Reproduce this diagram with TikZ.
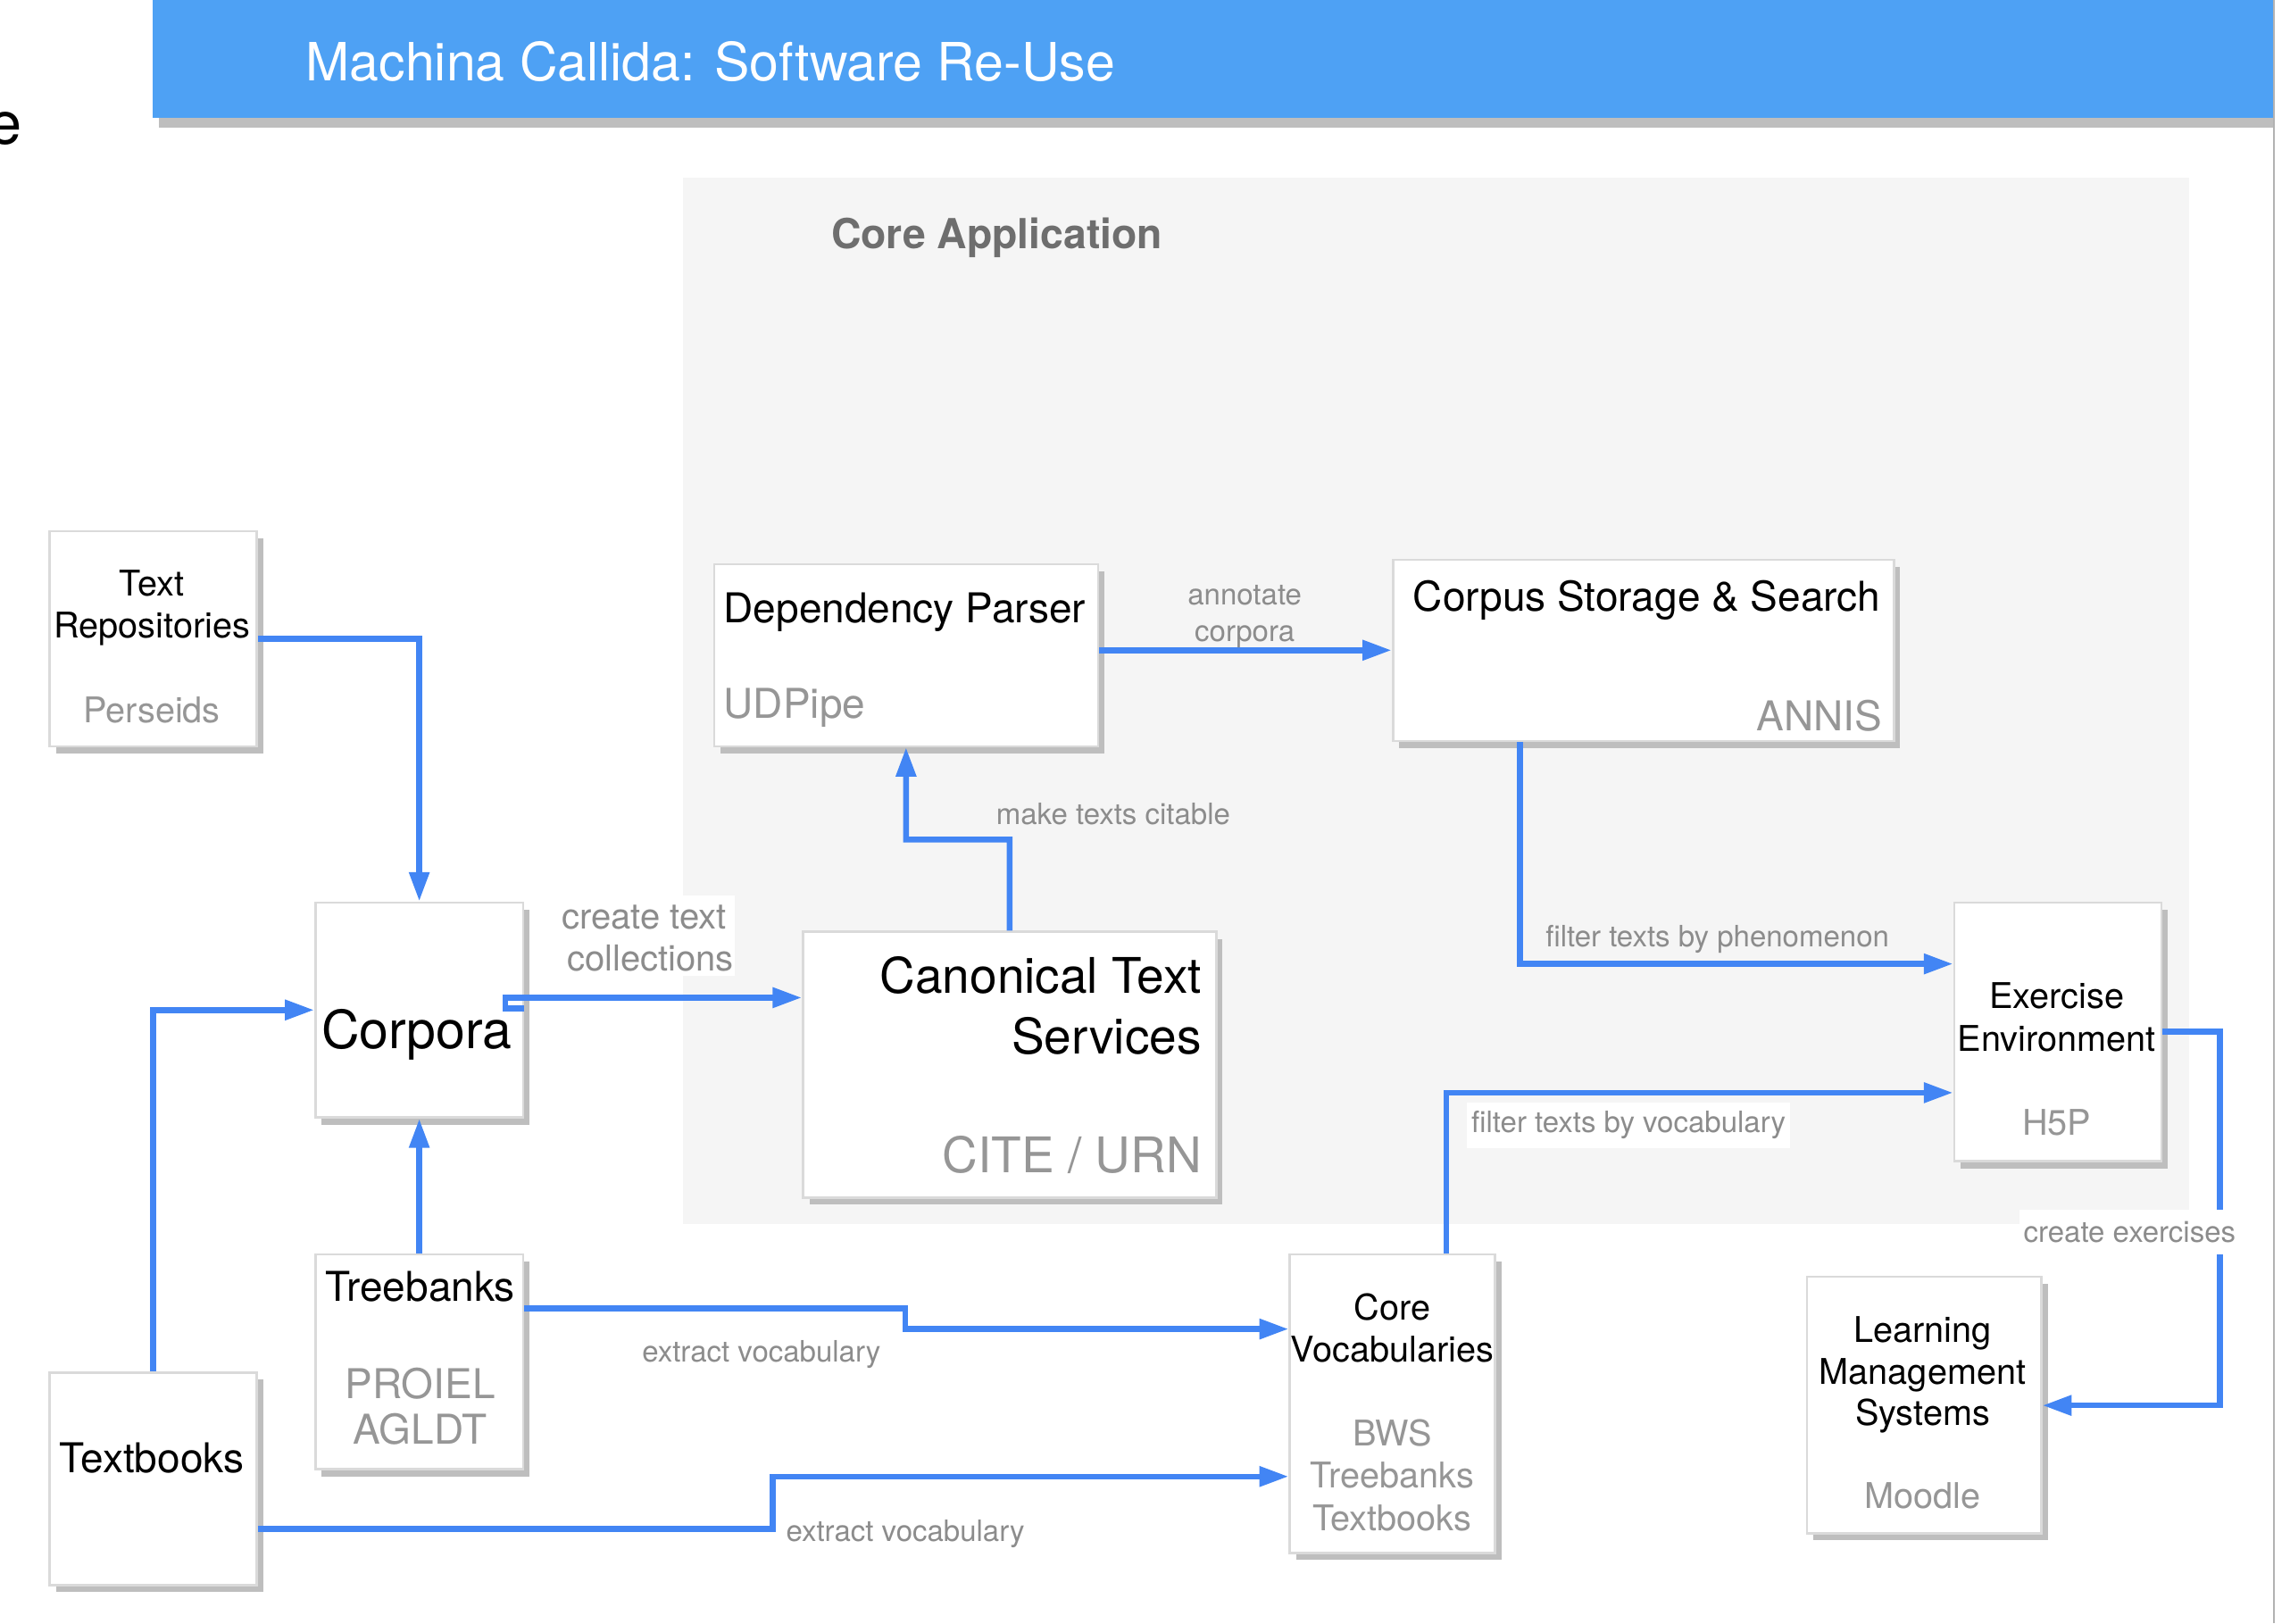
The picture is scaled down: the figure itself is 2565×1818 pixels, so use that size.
\documentclass[tikz,border=0pt]{standalone}
\usepackage{fontspec}
\setmainfont{TeX Gyre Heros}
\usetikzlibrary{arrows.meta,fit,shadows}
\definecolor{barblue}{RGB}{78,161,244}
\definecolor{lineblue}{RGB}{66,133,244}
\definecolor{panelgrey}{RGB}{245,245,245}
\definecolor{shadowgrey}{RGB}{190,190,190}
\definecolor{bordergrey}{RGB}{218,218,218}
\definecolor{subgrey}{RGB}{150,150,150}
\definecolor{labgrey}{RGB}{140,140,140}
\definecolor{coregrey}{RGB}{110,110,110}
\newcommand{\fsz}[1]{\fontsize{#1}{#1}\selectfont}
\begin{document}
\begin{tikzpicture}[x=0.3pt,y=-0.3pt,
  box/.style={draw=bordergrey, line width=0.8pt, fill=white, inner sep=0pt,
    drop shadow={shadow xshift=2.1pt, shadow yshift=-2.4pt, fill=shadowgrey, opacity=1}},
  conn/.style={draw=lineblue, line width=1.95pt, -{Triangle[length=9.8pt,width=6.5pt]}},
  txt/.style={inner sep=0pt, text=black},
  sub/.style={inner sep=0pt, text=subgrey},
  lab/.style={inner sep=0pt, text=labgrey, font=\fsz{9.9}, yshift=-0.96pt},
  tS/.style={font=\fsz{11.9}, yshift=-1.68pt},
  tM/.style={font=\fsz{13.8}, yshift=-2.4pt},
  tL/.style={font=\fsz{16.5}, yshift=-3.34pt},
  tX/.style={font=\fsz{17.7}, yshift=-3.8pt}
]
% canvas
\path[fill=white] (0,0) rectangle (2565,1818);
\useasboundingbox (0,0) rectangle (2565,1818);
% title bar
\fill[shadowgrey] (178,10) rectangle (2546,143);
\fill[barblue] (171,0) rectangle (2546,132);
\node[inner sep=0pt, text=white, font=\fsz{17.7}, yshift=-3.8pt, anchor=mid west] (title) at (342,69) {Machina Callida: Software Re-Use};
\draw[line width=0.6pt, color=black!30] (2547,0) -- (2547,1818);
\node[txt, font=\fsz{20}, yshift=-3.8pt, anchor=mid east] (cut) at (25,140) {e};
\begin{scope}[scale=0.99513]
% panel
\fill[panelgrey] (769,200) rectangle (2464,1378);
\node[inner sep=0pt, text=coregrey, font=\bfseries\fsz{13.9}, yshift=-2.4pt, anchor=mid west] (corelab) at (935,263) {Core Application};
% boxes
\node[box, fit={(56,598) (289,840)}] (tr) {};
\node[box, fit={(355,1016) (589,1258)}] (corp) {};
\node[box, fit={(804,635) (1236,840)}] (dep) {};
\node[box, fit={(1568,630) (2132,834)}] (cs) {};
\node[box, fit={(904,1049) (1369,1348)}] (cts) {};
\node[box, fit={(2200,1016) (2433,1307)}] (ex) {};
\node[box, fit={(355,1412) (589,1654)}] (trb) {};
\node[box, fit={(56,1545) (289,1784)}] (tb) {};
\node[box, fit={(1452,1412) (1683,1748)}] (cv) {};
\node[box, fit={(2034,1437) (2298,1726)}] (lms) {};
% box texts
\node[txt, tS, anchor=mid] (tr1) at (171,656) {Text};
\node[txt, tS, anchor=mid] (tr2) at (171,704) {Repositories};
\node[sub, tS, anchor=mid] (tr3) at (171,799) {Perseids};
\node[txt, tX, anchor=mid] (corp1) at (469,1159) {Corpora};
\node[txt, tM, anchor=mid west] (dep1) at (814,684) {Dependency Parser};
\node[sub, tM, anchor=mid west] (dep2) at (814,792) {UDPipe};
\node[txt, tM, anchor=mid west] (cs1) at (1590,671) {Corpus Storage \& Search};
\node[sub, tM, anchor=mid east] (cs2) at (2119,806) {ANNIS};
\node[txt, tL, anchor=mid east] (cts1) at (1353,1098) {Canonical Text};
\node[txt, tL, anchor=mid east] (cts2) at (1353,1166) {Services};
\node[sub, tL, anchor=mid east] (cts3) at (1353,1300) {CITE / URN};
\node[txt, tS, anchor=mid] (ex1) at (2315,1121) {Exercise};
\node[txt, tS, anchor=mid] (ex2) at (2315,1169) {Environment};
\node[sub, tS, anchor=mid] (ex3) at (2315,1263) {H5P};
\node[txt, tM, anchor=mid] (trb1) at (473,1448) {Treebanks};
\node[sub, tM, anchor=mid] (trb2) at (473,1557) {PROIEL};
\node[sub, tM, anchor=mid] (trb3) at (473,1609) {AGLDT};
\node[txt, tM, anchor=mid] (tb1) at (171,1641) {Textbooks};
\node[txt, tS, anchor=mid] (cv1) at (1567,1471) {Core};
\node[txt, tS, anchor=mid] (cv2) at (1567,1519) {Vocabularies};
\node[sub, tS, anchor=mid] (cv3) at (1567,1613) {BWS};
\node[sub, tS, anchor=mid] (cv4) at (1567,1660) {Treebanks};
\node[sub, tS, anchor=mid] (cv5) at (1567,1708) {Textbooks};
\node[txt, tS, anchor=mid] (lms1) at (2164,1496) {Learning};
\node[txt, tS, anchor=mid] (lms2) at (2164,1544) {Management};
\node[txt, tS, anchor=mid] (lms3) at (2164,1590) {Systems};
\node[sub, tS, anchor=mid] (lms4) at (2164,1683) {Moodle};
% bend coordinates
\coordinate (j1) at (569,1123);
\coordinate (j2) at (569,1135);
\coordinate (b5) at (1020,945);
\coordinate (b7) at (1711,1085);
\coordinate (b8) at (1628,1230);
\coordinate (b9) at (2499,1582);
\coordinate (b10a) at (1019,1473);
\coordinate (b10b) at (1019,1496);
\coordinate (b11a) at (870,1721);
\coordinate (b11b) at (870,1662);
% connectors
\draw[conn] (tr.east) -| (corp.north);
\draw[conn] (tb.north) |- (corp.west);
\draw[conn] (trb.north) -- (corp.south);
\draw[conn] (corp.east |- j2) -- (j2) -- (j1) -- (cts.west |- j1);
\draw[conn] (cts.north) |- (b5) -- (dep.south);
\draw[conn] (dep.east |- cs.west) -- (cs.west);
\draw[conn] (cs.south -| b7) -- (b7) -- (ex.west |- b7);
\draw[conn] (cv.north -| b8) -- (b8) -- (ex.west |- b8);
\draw[conn] (ex.east) -| (b9) -- (lms.east |- b9);
\draw[conn] (trb.east |- b10a) -- (b10a) -- (b10b) -- (cv.west |- b10b);
\draw[conn] (tb.east |- b11a) -- (b11a) -- (b11b) -- (cv.west |- b11b);
% connector labels
\node[lab, anchor=mid] (l1a) at (1401,669) {annotate};
\node[lab, anchor=mid] (l1b) at (1401,710) {corpora};
\node[lab, anchor=mid] (l2) at (1253,916) {make texts citable};
\node[fill=white, inner sep=0pt, minimum width=61.8pt, minimum height=27pt] (l3bg) at (724,1053) {};
\node[lab, font=\fsz{12}, yshift=-0.76pt, anchor=mid] (l3a) at (725,1031) {create text};
\node[lab, font=\fsz{12}, yshift=-0.76pt, anchor=mid] (l3b) at (732,1078) {collections};
\node[lab, anchor=mid] (l4) at (1933,1054) {filter texts by phenomenon};
\node[lab, anchor=mid, fill=white, inner xsep=1.5pt, inner ysep=3pt] (l5) at (1833,1263) {filter texts by vocabulary};
\node[lab, anchor=mid] (l6) at (857,1521) {extract vocabulary};
\node[lab, anchor=mid] (l7) at (1019,1723) {extract vocabulary};
\node[lab, anchor=mid, fill=white, inner xsep=1.5pt, inner ysep=4pt] (l8) at (2397,1386) {create exercises};
\end{scope}
\end{tikzpicture}
\end{document}
